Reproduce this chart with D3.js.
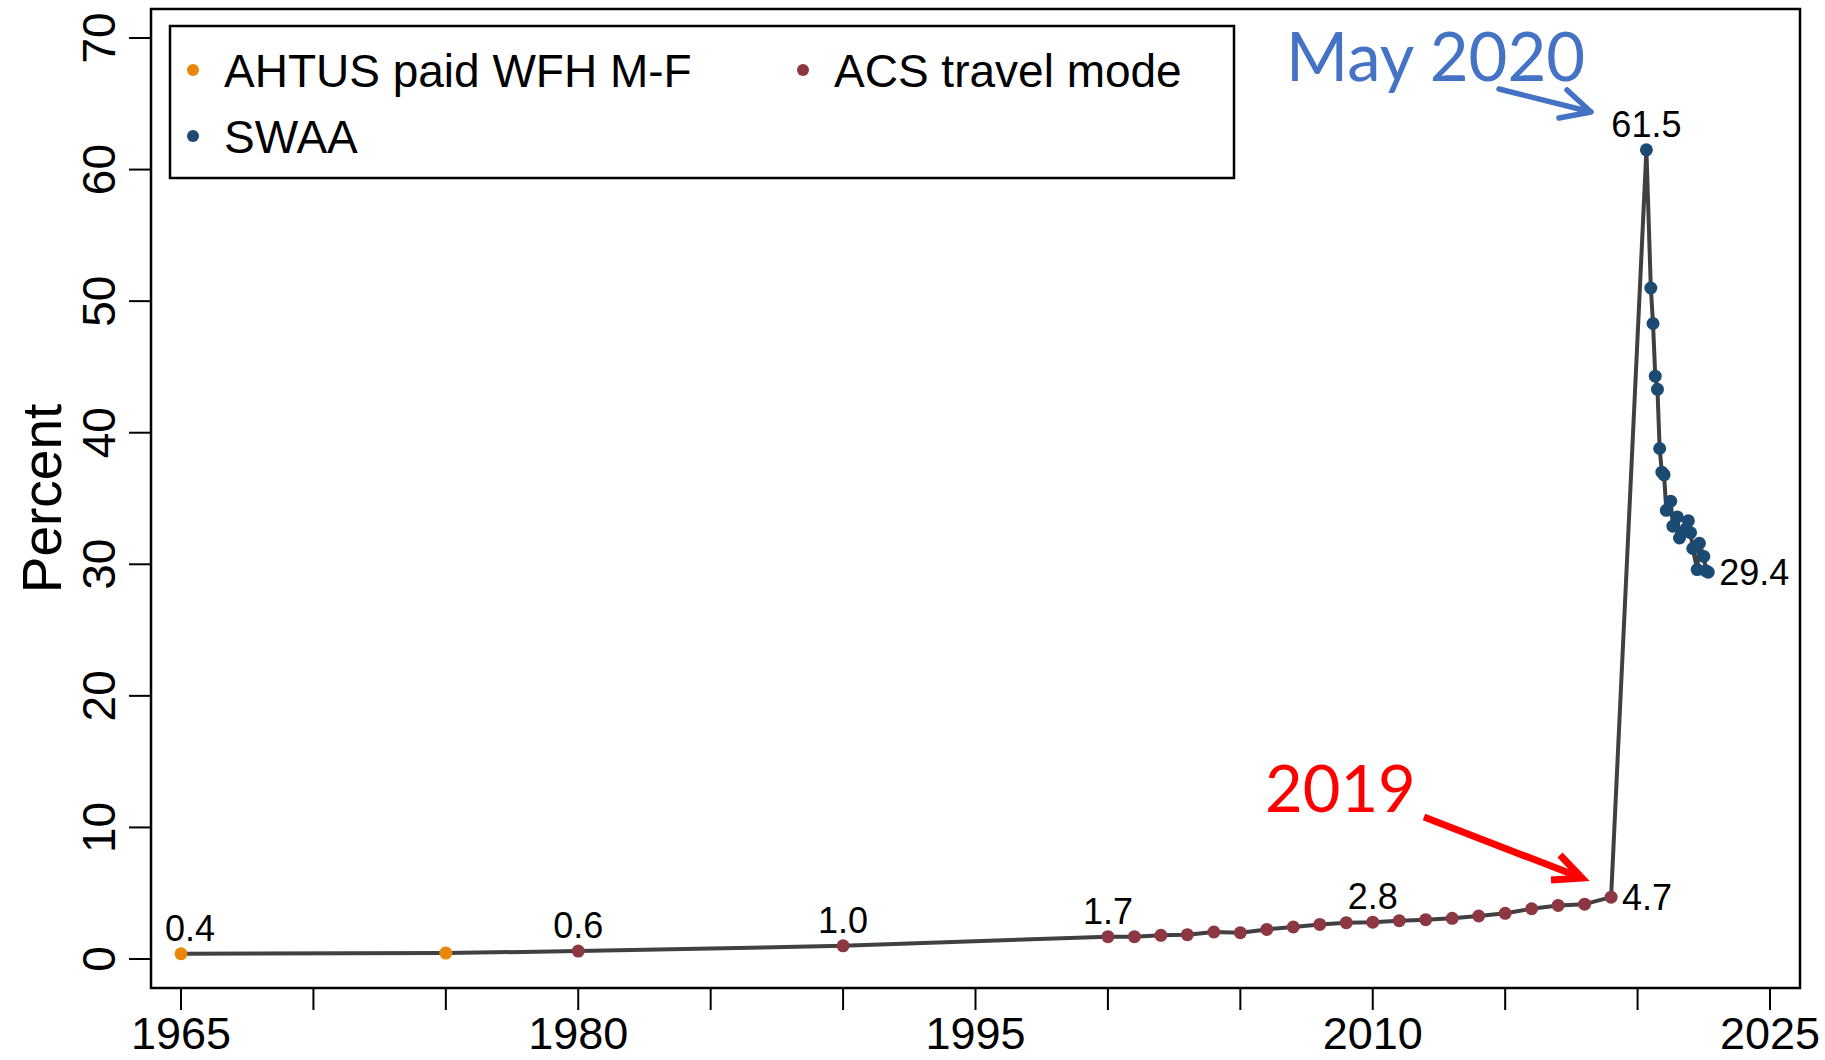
<!DOCTYPE html>
<html>
<head>
<meta charset="utf-8">
<script src="https://cdn.jsdelivr.net/npm/d3@7"></script>
<style>
  body { margin: 0; background: #fff; }
  svg { display: block; font-family: "Liberation Sans", Arial, Helvetica, sans-serif; }
</style>
</head>
<body>
<svg id="chart" width="1825" height="1060"></svg>
<script>
// American Heritage Time Use Study: paid WFH full days, Mon-Fri
var ahtusYears = [1965, 1975];
var ahtusValues = [0.4, 0.45];

// ACS: travel mode = worked from home
var acsYears = [1980, 1990, 2000, 2001, 2002, 2003, 2004, 2005, 2006, 2007, 2008,
                2009, 2010, 2011, 2012, 2013, 2014, 2015, 2016, 2017, 2018, 2019];
var acsValues = [0.6, 1.0, 1.7, 1.7, 1.8, 1.85, 2.05, 2.0, 2.25, 2.43, 2.63,
                 2.76, 2.8, 2.91, 2.99, 3.09, 3.27, 3.47, 3.82, 4.07, 4.17, 4.7];

// Survey of Working Arrangements and Attitudes
var swaaMonths = ['2020-05', '2020-07', '2020-08', '2020-09', '2020-10', '2020-11', '2020-12',
                  '2021-01', '2021-02', '2021-04', '2021-05', '2021-07', '2021-08', '2021-09',
                  '2021-11', '2021-12', '2022-01', '2022-02', '2022-04', '2022-05', '2022-07',
                  '2022-08', '2022-09'];
var swaaValues = [61.5, 51.0, 48.3, 44.3, 43.3, 38.8, 37.0,
                  36.8, 34.1, 34.8, 32.9, 33.6, 32.0, 32.4,
                  32.7, 33.3, 32.4, 31.2, 29.6, 31.6, 30.6,
                  29.5, 29.4];

var seriesNames = ['AHTUS paid WFH M-F', 'ACS travel mode', 'SWAA'];
var seriesColors = ['#e8870a', '#8c3742', '#1b4a72'];

var xTicks = d3.range(1965, 2026, 5);
var xTickLabels = [1965, 1980, 1995, 2010, 2025];
var yTicks = d3.range(0, 71, 10);

// which points carry a value label, and where
var labelAbove = ['1965', '1980', '1990', '2000', '2010', '2020-05'];
var labelRight = ['2019', '2022-09'];

var svg = d3.select('svg#chart');

var x = d3.scaleLinear().domain([1965, 2025]).range([181, 1770]);
var y = d3.scaleLinear().domain([0, 70]).range([959, 38]);

function monthToYear(s) {
    var p = s.split('-');
    return +p[0] + (+p[1] - 1) / 12;
}

var points = [];
ahtusYears.forEach(function (d, i) {
    points.push({ t: d, key: String(d), v: ahtusValues[i], s: 0 });
});
acsYears.forEach(function (d, i) {
    points.push({ t: d, key: String(d), v: acsValues[i], s: 1 });
});
swaaMonths.forEach(function (d, i) {
    points.push({ t: monthToYear(d), key: d, v: swaaValues[i], s: 2 });
});

// plot region frame
svg.append('rect')
    .attr('x', 151).attr('y', 9)
    .attr('width', 1649).attr('height', 979)
    .attr('fill', 'none')
    .attr('stroke', '#000')
    .attr('stroke-width', 2.5);

// x axis
var xAxis = svg.append('g').attr('transform', 'translate(0,988)');
xAxis.selectAll('line')
    .data(xTicks)
    .enter().append('line')
    .attr('x1', function (d) { return x(d); })
    .attr('x2', function (d) { return x(d); })
    .attr('y1', 0).attr('y2', 22)
    .attr('stroke', '#000').attr('stroke-width', 2);
xAxis.selectAll('text')
    .data(xTickLabels)
    .enter().append('text')
    .attr('x', function (d) { return x(d); })
    .attr('y', 61)
    .attr('text-anchor', 'middle')
    .attr('font-size', 45)
    .text(function (d) { return d; });

// y axis
var yAxis = svg.append('g').attr('transform', 'translate(151,0)');
yAxis.selectAll('line')
    .data(yTicks)
    .enter().append('line')
    .attr('x1', -22).attr('x2', 0)
    .attr('y1', function (d) { return y(d); })
    .attr('y2', function (d) { return y(d); })
    .attr('stroke', '#000').attr('stroke-width', 2);
yAxis.selectAll('text')
    .data(yTicks)
    .enter().append('text')
    .attr('transform', function (d) { return 'translate(-36,' + y(d) + ') rotate(-90)'; })
    .attr('text-anchor', 'middle')
    .attr('font-size', 46)
    .text(function (d) { return d; });

svg.append('text')
    .attr('transform', 'translate(61,' + y(35) + ') rotate(-90)')
    .attr('text-anchor', 'middle')
    .attr('font-size', 55)
    .text('Percent');

// connecting line
var line = d3.line()
    .x(function (d) { return x(d.t); })
    .y(function (d) { return y(d.v); });

svg.append('path')
    .datum(points)
    .attr('d', line)
    .attr('fill', 'none')
    .attr('stroke', '#404040')
    .attr('stroke-width', 4)
    .attr('stroke-linejoin', 'round');

svg.append('g').selectAll('circle')
    .data(points)
    .enter().append('circle')
    .attr('cx', function (d) { return x(d.t); })
    .attr('cy', function (d) { return y(d.v); })
    .attr('r', 6.5)
    .attr('fill', function (d) { return seriesColors[d.s]; });

// value labels
svg.append('g').selectAll('text')
    .data(points.filter(function (d) { return labelAbove.indexOf(d.key) >= 0; }))
    .enter().append('text')
    .attr('x', function (d) { return x(d.t) + (d.key === '1965' ? 9 : 0); })
    .attr('y', function (d) { return y(d.v) - 13; })
    .attr('text-anchor', 'middle')
    .attr('font-size', 36)
    .text(function (d) { return d.v.toFixed(1); });

svg.append('g').selectAll('text')
    .data(points.filter(function (d) { return labelRight.indexOf(d.key) >= 0; }))
    .enter().append('text')
    .attr('x', function (d) { return x(d.t) + 11; })
    .attr('y', function (d) { return y(d.v) + 13; })
    .attr('font-size', 36)
    .text(function (d) { return d.v.toFixed(1); });

// legend
var legend = svg.append('g');
legend.append('rect')
    .attr('x', 170).attr('y', 26)
    .attr('width', 1064).attr('height', 152)
    .attr('fill', '#fff')
    .attr('stroke', '#000')
    .attr('stroke-width', 2.5);
var legendPos = [[193, 70], [803, 70], [193, 136]];
var legendItem = legend.selectAll('g.item')
    .data(seriesNames)
    .enter().append('g')
    .attr('class', 'item')
    .attr('transform', function (d, i) { return 'translate(' + legendPos[i][0] + ',' + legendPos[i][1] + ')'; });
legendItem.append('circle')
    .attr('r', 6)
    .attr('fill', function (d, i) { return seriesColors[i]; });
legendItem.append('text')
    .attr('x', 31)
    .attr('y', 17)
    .attr('font-size', 46)
    .text(function (d) { return d; });

// annotations
var ann = svg.append('g').attr('font-family', 'Lato, "Open Sans", sans-serif');
ann.append('text')
    .attr('x', 1286).attr('y', 81)
    .attr('font-size', 67)
    .attr('fill', '#4472c4')
    .text('May 2020');
ann.append('path')
    .attr('d', 'M1499,89 L1591,112 M1567,90 L1591,112 L1559,118')
    .attr('fill', 'none')
    .attr('stroke', '#4472c4')
    .attr('stroke-width', 5.5)
    .attr('stroke-linecap', 'round')
    .attr('stroke-linejoin', 'round');

ann.append('text')
    .attr('x', 1265).attr('y', 812)
    .attr('font-size', 65)
    .attr('fill', '#ff0000')
    .text('2019');
ann.append('path')
    .attr('d', 'M1424,817 L1582,878 M1560,855 L1582,878 L1551,880')
    .attr('fill', 'none')
    .attr('stroke', '#ff0000')
    .attr('stroke-width', 7)
    .attr('stroke-linecap', 'butt')
    .attr('stroke-linejoin', 'miter');
</script>
</body>
</html>
